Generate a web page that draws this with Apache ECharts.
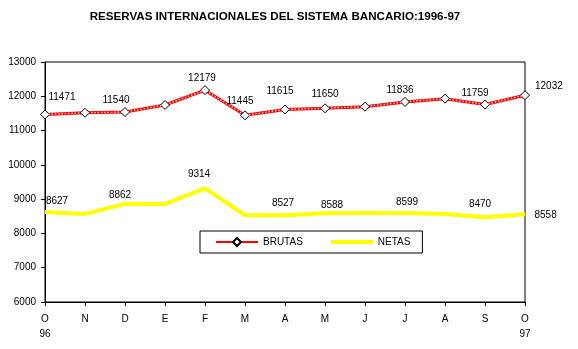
<!DOCTYPE html>
<html>
<head>
<meta charset="utf-8">
<script src="https://cdn.jsdelivr.net/npm/echarts@6/dist/echarts.min.js"></script>
<style>
  html, body { margin: 0; padding: 0; background: #fff; }
  #chart { width: 578px; height: 349px; }
</style>
</head>
<body>
<div id="chart"></div>
<script>
// Monthly reserves, Oct 1996 – Oct 1997 (millions)
const months = ['O\n96', 'N', 'D', 'E', 'F', 'M', 'A', 'M', 'J', 'J', 'A', 'S', 'O\n97'];
const brutas = [11471, 11520, 11540, 11746, 12179, 11445, 11615, 11650, 11697, 11836, 11930, 11759, 12032];
const netas  = [8627, 8570, 8862, 8860, 9314, 8530, 8527, 8588, 8605, 8599, 8570, 8470, 8558];

// which points carry a value label
const brutasLabeled = [0, 2, 4, 5, 6, 7, 9, 11, 12];
const netasLabeled  = [0, 2, 4, 6, 7, 9, 11, 12];

const FONT = 'Liberation Sans, Arial, sans-serif';
const FS = 10;
const last = months.length - 1;

// horizontal / vertical nudges for individual value labels
const brutasNudge = { 0: [17, -5], 2: [-9, 0], 4: [-3, 0], 5: [-5, -2], 6: [-5, -6], 7: [0, -2], 9: [-5, 0], 11: [-10, 1], 12: [0, -9] };
const netasNudge  = { 0: [12, -3], 2: [-5, -1], 4: [-6, -7], 6: [-2, -5], 7: [7, -1], 9: [2, -3], 11: [-5, -6], 12: [0, 1] };

function labelFor(i, shown, nudge, sideDistance) {
  if (shown.indexOf(i) < 0) return { show: false };
  const off = nudge[i] || [0, 0];
  if (i === last) return { show: true, position: 'right', distance: sideDistance, offset: off };
  return { show: true, position: 'top', distance: 2, offset: off };
}

const brutasData = brutas.map((v, i) => ({ value: v, label: labelFor(i, brutasLabeled, brutasNudge, 5) }));
const netasData  = netas.map((v, i) => ({ value: v, label: labelFor(i, netasLabeled, netasNudge, 9) }));

const chart = echarts.init(document.getElementById('chart'), null, { renderer: 'canvas' });
chart.setOption({
  animation: false,
  backgroundColor: '#ffffff',
  title: {
    text: 'RESERVAS INTERNACIONALES DEL SISTEMA BANCARIO:1996-97',
    left: 270, top: 6, textAlign: 'center',
    textStyle: { fontFamily: FONT, fontWeight: 'bold', fontSize: 11.6, color: '#000' }
  },
  grid: {
    left: 45, right: 53, top: 62, bottom: 47,
    show: true, borderColor: '#000', borderWidth: 1, backgroundColor: 'transparent'
  },
  legend: {
    left: 200, top: 231,
    itemWidth: 42, itemHeight: 10, itemGap: 28,
    padding: [6, 12, 6, 15],
    borderColor: '#000', borderWidth: 1, borderRadius: 0,
    data: [
      { name: 'BRUTAS' },
      { name: 'NETAS', icon: 'path://M0,0L42,0L42,4L0,4Z' }
    ],
    textStyle: { fontFamily: FONT, fontSize: FS, color: '#000' }
  },
  xAxis: {
    type: 'category', data: months, boundaryGap: false,
    axisLine: { lineStyle: { color: '#000', width: 1 } },
    axisTick: { show: true, length: 4, inside: false, lineStyle: { color: '#000' } },
    axisLabel: { fontFamily: FONT, fontSize: FS, color: '#000', margin: 10, lineHeight: 15, interval: 0 },
    splitLine: { show: false }
  },
  yAxis: {
    type: 'value', min: 6000, max: 13000, interval: 1000,
    axisLine: { show: true, lineStyle: { color: '#000', width: 1 } },
    axisTick: { show: true, length: 4, lineStyle: { color: '#000' } },
    axisLabel: { fontFamily: FONT, fontSize: FS, color: '#000', margin: 9, formatter: v => String(v) },
    splitLine: { show: false }
  },
  series: [
    {
      name: 'BRUTAS', type: 'line', data: brutasData, z: 3,
      symbol: 'diamond', symbolSize: 9, showAllSymbol: true,
      itemStyle: { color: '#ffffff', borderColor: '#000', borderWidth: 1 },
      lineStyle: { color: '#ff0000', width: 3 },
      label: { fontFamily: FONT, fontSize: FS, color: '#000' }
    },
    {
      // white stitching drawn over the red line
      name: 'brutas-stitch', type: 'line', data: brutas, z: 4,
      symbol: 'none', silent: true,
      lineStyle: { color: '#ffffff', width: 1.3, type: [1.3, 2] }
    },
    {
      name: 'NETAS', type: 'line', data: netasData, z: 2,
      symbol: 'circle', symbolSize: 1, showAllSymbol: true,
      itemStyle: { color: '#ffff00', opacity: 1 },
      lineStyle: { color: '#ffff00', width: 4 },
      label: { fontFamily: FONT, fontSize: FS, color: '#000' }
    }
  ]
});
</script>
</body>
</html>
